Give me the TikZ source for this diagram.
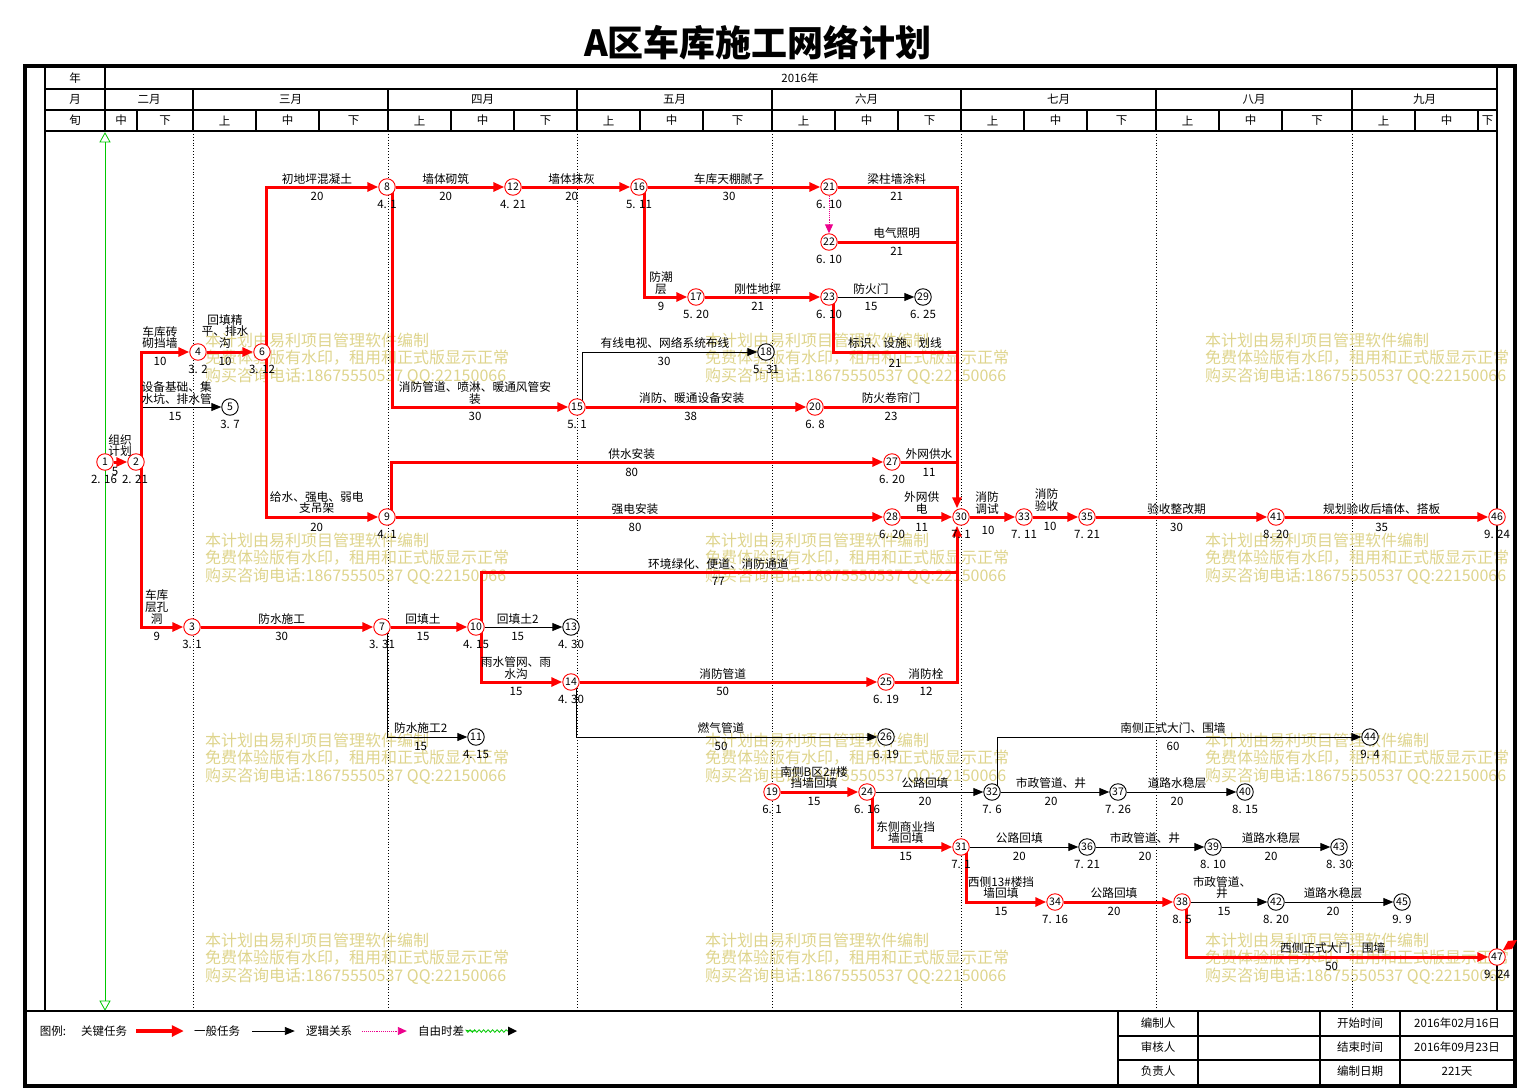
\documentclass[tikz,border=0pt]{standalone}
\usepackage{fontspec}
\setmainfont{Noto Sans CJK SC}
\usepackage{tikz}
\usetikzlibrary{arrows.meta, backgrounds, decorations.pathmorphing}
\definecolor{wmyellow}{RGB}{222,212,140}
\definecolor{gridgreen}{RGB}{0,200,0}
\tikzstyle{critnode} = [circle, draw=red, fill=white, line width=0.9pt, minimum size=16.5pt, inner sep=0pt, font=\fontsize{10.5}{11}\selectfont]
\tikzstyle{normnode} = [critnode, draw=black]
\tikzstyle{crit} = [-{Triangle[length=11pt, width=9pt]}, draw=red, line width=3pt]
\tikzstyle{critline} = [draw=red, line width=3pt]
\tikzstyle{norm} = [-{Triangle[length=10pt, width=8pt]}, line width=0.9pt]
\tikzstyle{logic} = [-{Triangle[length=9pt, width=8pt]}, draw=magenta, densely dotted, line width=0.9pt]
\tikzstyle{tname} = [align=center, inner sep=0pt, font=\fontsize{11.7}{11.7}\selectfont]
\tikzstyle{tdur} = [inner sep=0pt, font=\fontsize{11.5}{12}\selectfont]
\tikzstyle{tdate} = [inner sep=0pt, font=\fontsize{11.5}{12}\selectfont]
\tikzstyle{hdr} = [inner sep=0pt, font=\fontsize{11.5}{12}\selectfont]
\tikzstyle{wmark} = [anchor=west, inner sep=0pt, text=wmyellow, font=\fontsize{16}{18}\selectfont]
\tikzstyle{frm} = [line width=1.5pt]

\begin{document}
\begin{tikzpicture}[x=1pt, y=-1pt]
  \useasboundingbox (0,0) rectangle (1521,1089);
  % ---------- title and frame ----------
  \node[font=\fontsize{36}{40}\selectfont\bfseries] (title) at (758,43) {A区车库施工网络计划};
  \draw[line width=4.5pt] (25,66) rectangle (1515,1086);
  \draw[frm] (45,66) -- (45,1011);
  \draw[frm] (1497,66) -- (1497,1011);
  \draw[frm] (45,89) -- (1497,89);
  \draw[frm] (45,110) -- (1497,110);
  \draw[frm] (45,131) -- (1497,131);
  \draw[frm] (105,66) -- (105,131);
  \draw[line width=2.5pt] (25,1011) -- (1515,1011);
  % ---------- time scale ----------
  \node[hdr] (hy) at (75,78.5) {年};
  \node[hdr] (hm) at (75,99.5) {月};
  \node[hdr] (hd) at (75,120.5) {旬};
  \node[hdr] (year) at (800,78.5) {2016年};
  \foreach \a/\b/\s in {105/193/二月, 193/388/三月, 388/577/四月, 577/772/五月, 772/961/六月, 961/1156/七月, 1156/1352/八月, 1352/1497/九月}
  {
    \draw[frm] (\a,89) -- (\a,131);
    \node[hdr] (m\a) at ({(\a+\b)/2},99.5) {\s};
  }
  \foreach \a/\b/\s in {105/137/中, 137/193/下, 193/256/上, 256/319/中, 319/388/下, 388/451/上, 451/514/中, 514/577/下, 577/640/上, 640/703/中, 703/772/下, 772/835/上, 835/898/中, 898/961/下, 961/1024/上, 1024/1087/中, 1087/1156/下, 1156/1219/上, 1219/1282/中, 1282/1352/下, 1352/1415/上, 1415/1478/中, 1478/1497/下}
  {
    \draw[frm] (\a,110) -- (\a,131);
    \node[hdr] (k\a) at ({(\a+\b)/2},120.5) {\s};
  }
  % ---------- events ----------
  % row y=187
  \node[critnode] (n8)  at (387,187) {8};    \node[tdate] (e8)  at (387,204) {4. 1};
  \node[critnode] (n12) at (513,187) {12};   \node[tdate] (e12) at (513,204) {4. 21};
  \node[critnode] (n16) at (639,187) {16};   \node[tdate] (e16) at (639,204) {5. 11};
  \node[critnode] (n21) at (829,187) {21};   \node[tdate] (e21) at (829,204) {6. 10};
  % row y=242 / 297
  \node[critnode] (n22) at (829,242) {22};   \node[tdate] (e22) at (829,259) {6. 10};
  \node[critnode] (n17) at (696,297) {17};   \node[tdate] (e17) at (696,314) {5. 20};
  \node[critnode] (n23) at (829,297) {23};   \node[tdate] (e23) at (829,314) {6. 10};
  \node[normnode] (n29) at (923,297) {29};   \node[tdate] (e29) at (923,314) {6. 25};
  % row y=352 / 407
  \node[critnode] (n4)  at (198,352) {4};    \node[tdate] (e4)  at (198,369) {3. 2};
  \node[critnode] (n6)  at (262,352) {6};    \node[tdate] (e6)  at (262,369) {3. 12};
  \node[normnode] (n18) at (766,352) {18};   \node[tdate] (e18) at (766,369) {5. 31};
  \node[normnode] (n5)  at (230,407) {5};    \node[tdate] (e5)  at (230,424) {3. 7};
  \node[critnode] (n15) at (577,407) {15};   \node[tdate] (e15) at (577,424) {5. 1};
  \node[critnode] (n20) at (815,407) {20};   \node[tdate] (e20) at (815,424) {6. 8};
  % row y=462 / 517
  \node[critnode] (n1)  at (105,462) {1};    \node[tdate] (e1)  at (104,479) {2. 16};
  \node[critnode] (n2)  at (136,462) {2};    \node[tdate] (e2)  at (135,479) {2. 21};
  \node[critnode] (n27) at (892,462) {27};   \node[tdate] (e27) at (892,479) {6. 20};
  \node[critnode] (n9)  at (387,517) {9};    \node[tdate] (e9)  at (387,534) {4. 1};
  \node[critnode] (n28) at (892,517) {28};   \node[tdate] (e28) at (892,534) {6. 20};
  \node[critnode] (n30) at (961,517) {30};   \node[tdate] (e30) at (961,534) {7. 1};
  \node[critnode] (n33) at (1024,517) {33};  \node[tdate] (e33) at (1024,534) {7. 11};
  \node[critnode] (n35) at (1087,517) {35};  \node[tdate] (e35) at (1087,534) {7. 21};
  \node[critnode] (n41) at (1276,517) {41};  \node[tdate] (e41) at (1276,534) {8. 20};
  \node[critnode] (n46) at (1497,517) {46};  \node[tdate] (e46) at (1497,534) {9. 24};
  % row y=627 / 682 / 737
  \node[critnode] (n3)  at (192,627) {3};    \node[tdate] (e3)  at (192,644) {3. 1};
  \node[critnode] (n7)  at (382,627) {7};    \node[tdate] (e7)  at (382,644) {3. 31};
  \node[critnode] (n10) at (476,627) {10};   \node[tdate] (e10) at (476,644) {4. 15};
  \node[normnode] (n13) at (571,627) {13};   \node[tdate] (e13) at (571,644) {4. 30};
  \node[critnode] (n14) at (571,682) {14};   \node[tdate] (e14) at (571,699) {4. 30};
  \node[critnode] (n25) at (886,682) {25};   \node[tdate] (e25) at (886,699) {6. 19};
  \node[normnode] (n11) at (476,737) {11};   \node[tdate] (e11) at (476,754) {4. 15};
  \node[normnode] (n26) at (886,737) {26};   \node[tdate] (e26) at (886,754) {6. 19};
  \node[normnode] (n44) at (1370,737) {44};  \node[tdate] (e44) at (1370,754) {9. 4};
  % row y=792 / 847 / 902 / 957
  \node[critnode] (n19) at (772,792) {19};   \node[tdate] (e19) at (772,809) {6. 1};
  \node[critnode] (n24) at (867,792) {24};   \node[tdate] (e24) at (867,809) {6. 16};
  \node[normnode] (n32) at (992,792) {32};   \node[tdate] (e32) at (992,809) {7. 6};
  \node[normnode] (n37) at (1118,792) {37};  \node[tdate] (e37) at (1118,809) {7. 26};
  \node[normnode] (n40) at (1245,792) {40};  \node[tdate] (e40) at (1245,809) {8. 15};
  \node[critnode] (n31) at (961,847) {31};   \node[tdate] (e31) at (961,864) {7. 1};
  \node[normnode] (n36) at (1087,847) {36};  \node[tdate] (e36) at (1087,864) {7. 21};
  \node[normnode] (n39) at (1213,847) {39};  \node[tdate] (e39) at (1213,864) {8. 10};
  \node[normnode] (n43) at (1339,847) {43};  \node[tdate] (e43) at (1339,864) {8. 30};
  \node[critnode] (n34) at (1055,902) {34};  \node[tdate] (e34) at (1055,919) {7. 16};
  \node[critnode] (n38) at (1182,902) {38};  \node[tdate] (e38) at (1182,919) {8. 5};
  \node[normnode] (n42) at (1276,902) {42};  \node[tdate] (e42) at (1276,919) {8. 20};
  \node[normnode] (n45) at (1402,902) {45};  \node[tdate] (e45) at (1402,919) {9. 9};
  \node[critnode] (n47) at (1497,957) {47};  \node[tdate] (e47) at (1497,974) {9. 24};
  \fill[red] (1503,950) -- (1508,941) -- (1517,940) -- (1512,949) -- cycle;
  % junctions on the collector line into 30
  \coordinate (j23) at (957,352);
  \coordinate (j10) at (957,572);
  % ---------- task names and durations ----------
  \node[tname] (t12) at (120,445.5) {组织\\计划};           \node[tdur] (d12) at (115,471.7) {5};
  \node[tname] (t24) at (160,337.5) {车库砖\\砌挡墙};        \node[tdur] (d24) at (160,361.7) {10};
  \node[tname] (t25) at (176.7,393.3) {设备基础、集\\水坑、排水管}; \node[tdur] (d25) at (175,416.7) {15};
  \node[tname] (t46) at (225,331.5) {回填精\\平、排水\\沟};   \node[tdur] (d46) at (225,361.7) {10};
  \node[tname] (t68) at (317,179) {初地坪混凝土};           \node[tdur] (d68) at (317,196.7) {20};
  \node[tname] (t69) at (316.7,502.5) {给水、强电、弱电\\支吊架}; \node[tdur] (d69) at (316.7,527.3) {20};
  \node[tname] (t23) at (156.7,607) {车库\\层孔\\洞};         \node[tdur] (d23) at (156.7,636.7) {9};
  \node[tname] (t37) at (281.7,619) {防水施工};              \node[tdur] (d37) at (281.7,636.7) {30};
  \node[tname] (t710) at (423,619) {回填土};                 \node[tdur] (d710) at (423,636.7) {15};
  \node[tname] (t711) at (420.7,728.3) {防水施工2};          \node[tdur] (d711) at (420.7,746) {15};
  \node[tname] (t1013) at (517.7,619) {回填土2};             \node[tdur] (d1013) at (517.7,636.7) {15};
  \node[tname] (t1014) at (516,667.8) {雨水管网、雨\\水沟};   \node[tdur] (d1014) at (516,691.7) {15};
  \node[tname] (t1030) at (718.3,564) {环境绿化、便道、消防通道}; \node[tdur] (d1030) at (718.3,581.7) {77};
  \node[tname] (t1425) at (722.7,674.3) {消防管道};          \node[tdur] (d1425) at (722.7,691.7) {50};
  \node[tname] (t2530) at (926,674.3) {消防栓};              \node[tdur] (d2530) at (926,691.7) {12};
  \node[tname] (t1426) at (721,728.3) {燃气管道};            \node[tdur] (d1426) at (721,746) {50};
  \node[tname] (t927) at (631.7,454) {供水安装};             \node[tdur] (d927) at (631.7,472.3) {80};
  \node[tname] (t928) at (635,509) {强电安装};               \node[tdur] (d928) at (635,527.3) {80};
  \node[tname] (t2730) at (929,454) {外网供水};              \node[tdur] (d2730) at (929,472.3) {11};
  \node[tname] (t2830) at (921.7,503) {外网供\\电};          \node[tdur] (d2830) at (921.7,527.3) {11};
  \node[tname] (t812) at (445.7,179) {墙体砌筑};             \node[tdur] (d812) at (445.7,196.7) {20};
  \node[tname] (t1216) at (571.7,179) {墙体抹灰};            \node[tdur] (d1216) at (571.7,196.7) {20};
  \node[tname] (t1621) at (729,179) {车库天棚腻子};          \node[tdur] (d1621) at (729,196.7) {30};
  \node[tname] (t1617) at (661,283) {防潮\\层};              \node[tdur] (d1617) at (661,306.7) {9};
  \node[tname] (t1723) at (757.7,289) {刚性地坪};            \node[tdur] (d1723) at (757.7,306.7) {21};
  \node[tname] (t815) at (475,393.3) {消防管道、喷淋、暖通风管安\\装}; \node[tdur] (d815) at (475,416.7) {30};
  \node[tname] (t1518) at (665,342.7) {有线电视、网络系统布线}; \node[tdur] (d1518) at (664,361.7) {30};
  \node[tname] (t1520) at (691.7,398.3) {消防、暖通设备安装};  \node[tdur] (d1520) at (690.7,416.7) {38};
  \node[tname] (t2130) at (896.7,179) {梁柱墙涂料};          \node[tdur] (d2130) at (896.7,196.7) {21};
  \node[tname] (t2230) at (896.7,233.3) {电气照明};          \node[tdur] (d2230) at (896.7,251.7) {21};
  \node[tname] (t2329) at (871,289) {防火门};                \node[tdur] (d2329) at (871,306.7) {15};
  \node[tname] (t2330) at (895,343.3) {标识、设施、划线};    \node[tdur] (d2330) at (895,363.3) {21};
  \node[tname] (t2030) at (891,398.3) {防火卷帘门};          \node[tdur] (d2030) at (891,416.7) {23};
  \node[tname] (t3033) at (987,502.8) {消防\\调试};          \node[tdur] (d3033) at (988,530.7) {10};
  \node[tname] (t3335) at (1046.5,500) {消防\\验收};         \node[tdur] (d3335) at (1050,526.7) {10};
  \node[tname] (t3541) at (1176.5,509) {验收整改期};         \node[tdur] (d3541) at (1176.5,527.3) {30};
  \node[tname] (t4146) at (1381.7,509) {规划验收后墙体、搭板}; \node[tdur] (d4146) at (1381.7,527.3) {35};
  \node[tname] (t1924) at (814,777.5) {南侧B区2\#楼\\挡墙回填}; \node[tdur] (d1924) at (814,801.7) {15};
  \node[tname] (t2432) at (925,783.3) {公路回填};            \node[tdur] (d2432) at (925,801.7) {20};
  \node[tname] (t3237) at (1051,783.3) {市政管道、井};       \node[tdur] (d3237) at (1051,801.7) {20};
  \node[tname] (t3740) at (1177,783.3) {道路水稳层};         \node[tdur] (d3740) at (1177,801.7) {20};
  \node[tname] (t3244) at (1173,728.3) {南侧正式大门、围墙}; \node[tdur] (d3244) at (1173,746) {60};
  \node[tname] (t2431) at (905.7,832.5) {东侧商业挡\\墙回填}; \node[tdur] (d2431) at (905.7,856.7) {15};
  \node[tname] (t3136) at (1019.3,838.3) {公路回填};         \node[tdur] (d3136) at (1019.3,856.7) {20};
  \node[tname] (t3639) at (1145,838.3) {市政管道、井};       \node[tdur] (d3639) at (1145,856.7) {20};
  \node[tname] (t3943) at (1271,838.3) {道路水稳层};         \node[tdur] (d3943) at (1271,856.7) {20};
  \node[tname] (t3134) at (1001,887.5) {西侧13\#楼挡\\墙回填}; \node[tdur] (d3134) at (1001,911.7) {15};
  \node[tname] (t3438) at (1114,893.3) {公路回填};           \node[tdur] (d3438) at (1114,911.7) {20};
  \node[tname] (t3842) at (1222,887.5) {市政管道、\\井};     \node[tdur] (d3842) at (1224,911.7) {15};
  \node[tname] (t4245) at (1333,893.3) {道路水稳层};         \node[tdur] (d4245) at (1333,911.7) {20};
  \node[tname] (t3847) at (1332.7,948.3) {西侧正式大门、围墙}; \node[tdur] (d3847) at (1331.7,966.7) {50};
  % ---------- legend and sign-off table ----------
  \node[hdr] (lgtitle) at (53,1031) {图例:};
  \node[hdr] (lgcrit)  at (104,1031) {关键任务};
  \node[hdr] (lgnorm)  at (217,1031) {一般任务};
  \node[hdr] (lglogic) at (329,1031) {逻辑关系};
  \node[hdr] (lgfree)  at (441,1031) {自由时差};
  \coordinate (lgend) at (508,1031);
  \draw[-{Triangle[length=12pt, width=11pt]}, draw=red, line width=4pt, shorten <=9pt, shorten >=10pt] (lgcrit) -- (lgnorm);
  \draw[norm, shorten <=12pt, shorten >=11pt] (lgnorm) -- (lglogic);
  \draw[logic, shorten <=10pt, shorten >=11pt] (lglogic) -- (lgfree);
  \draw[gridgreen, line width=0.8pt, decorate, decoration={snake, amplitude=1.3pt, segment length=4.5pt}, shorten <=11pt] (lgfree) -- (lgend);
  \fill (lgend) ++(0,-4.5) -- ++(9,4.5) -- ++(-9,4.5) -- cycle;
  \draw[frm] (1118,1011) -- (1118,1086);
  \draw[frm] (1198,1011) -- (1198,1086);
  \draw[frm] (1320,1011) -- (1320,1086);
  \draw[frm] (1400,1011) -- (1400,1086);
  \draw[frm] (1118,1036) -- (1515,1036);
  \draw[frm] (1118,1060) -- (1515,1060);
  \node[hdr] (s1) at (1158,1023.5) {编制人};
  \node[hdr] (s2) at (1158,1047.5) {审核人};
  \node[hdr] (s3) at (1158,1071.5) {负责人};
  \node[hdr] (s4) at (1360,1023.5) {开始时间};
  \node[hdr] (s5) at (1360,1047.5) {结束时间};
  \node[hdr] (s6) at (1360,1071.5) {编制日期};
  \node[hdr] (s7) at (1457,1023.5) {2016年02月16日};
  \node[hdr] (s8) at (1457,1047.5) {2016年09月23日};
  \node[hdr] (s9) at (1457,1071.5) {221天};
  % ---------- grid, watermark and arrows (behind the events) ----------
  \begin{scope}[on background layer]
    \foreach \x in {193,388,577,772,961,1156,1352}
      \draw[dotted, line width=0.9pt] (\x,131) -- (\x,1011);
    \draw[gridgreen, line width=0.8pt] (105,142) -- (105,1001);
    \draw[gridgreen, line width=0.8pt] (105,133) -- (110,142) -- (100,142) -- cycle;
    \draw[gridgreen, line width=0.8pt] (105,1010) -- (110,1001) -- (100,1001) -- cycle;
    \foreach \wx in {205,705,1205}
      \foreach \wy in {340,540,740,940}
      {
        \node[wmark] (wa\wx\wy) at (\wx,\wy) {本计划由易利项目管理软件编制};
        \node[wmark] (wb\wx\wy) at (\wx,\wy+18) {免费体验版有水印，租用和正式版显示正常};
        \node[wmark] (wc\wx\wy) at (\wx,\wy+36) {购买咨询电话:18675550537 QQ:22150066};
      }
    % general tasks
    \draw[norm] ([xshift=6pt]n2.center) |- (n5);
    \draw[norm] ([xshift=5pt]n15.center) |- (n18);
    \draw[norm] (n23) -- (n29);
    \draw[norm] (n10) -- (n13);
    \draw[norm] ([xshift=5pt]n7.center) |- (n11);
    \draw[norm] ([xshift=5pt]n14.center) |- (n26);
    \draw[norm] (n24) -- (n32);
    \draw[norm] (n32) -- (n37);
    \draw[norm] (n37) -- (n40);
    \draw[norm] ([xshift=5pt]n32.center) |- (n44);
    \draw[norm] (n31) -- (n36);
    \draw[norm] (n36) -- (n39);
    \draw[norm] (n39) -- (n43);
    \draw[norm] (n38) -- (n42);
    \draw[norm] (n42) -- (n45);
    \draw[logic] (n21) -- (n22);
    % critical tasks
    \draw[crit] (n1) -- (n2);
    \draw[crit] ([xshift=5pt]n2.center) |- (n4);
    \draw[crit] ([xshift=5pt]n2.center) |- (n3);
    \draw[crit] (n4) -- (n6);
    \draw[crit] ([xshift=4.5pt]n6.center) |- (n8);
    \draw[crit] ([xshift=4.5pt]n6.center) |- (n9);
    \draw[crit] (n8) -- (n12);
    \draw[crit] (n12) -- (n16);
    \draw[crit] (n16) -- (n21);
    \draw[crit] ([xshift=5pt]n16.center) |- (n17);
    \draw[crit] (n17) -- (n23);
    \draw[crit] ([xshift=5pt]n8.center) |- (n15);
    \draw[crit] (n15) -- (n20);
    \draw[crit] ([xshift=4.5pt]n9.center) |- (n27);
    \draw[crit] (n9) -- (n28);
    \draw[crit] (n21) -| ([xshift=-4pt]n30.north);
    \draw[critline] (n22) -- (n22 -| j23);
    \draw[critline] ([xshift=4.5pt]n23.center) |- (j23);
    \draw[critline] (n20) -- (n20 -| j23);
    \draw[critline] (n27) -- (n27 -| j23);
    \draw[crit] (n28) -- (n30);
    \draw[crit] (n3) -- (n7);
    \draw[crit] (n7) -- (n10);
    \draw[crit] ([xshift=5pt]n10.center) |- (n14);
    \draw[critline] ([xshift=5pt]n10.center) |- (j10);
    \draw[crit] (n14) -- (n25);
    \draw[crit] (n25) -| ([xshift=-4pt]n30.south);
    \draw[crit] (n30) -- (n33);
    \draw[crit] (n33) -- (n35);
    \draw[crit] (n35) -- (n41);
    \draw[crit] (n41) -- (n46);
    \draw[crit] (n19) -- (n24);
    \draw[crit] ([xshift=5pt]n24.center) |- (n31);
    \draw[crit] ([xshift=5pt]n31.center) |- (n34);
    \draw[crit] (n34) -- (n38);
    \draw[crit] ([xshift=4pt]n38.center) |- (n47);
  \end{scope}
\end{tikzpicture}
\end{document}
